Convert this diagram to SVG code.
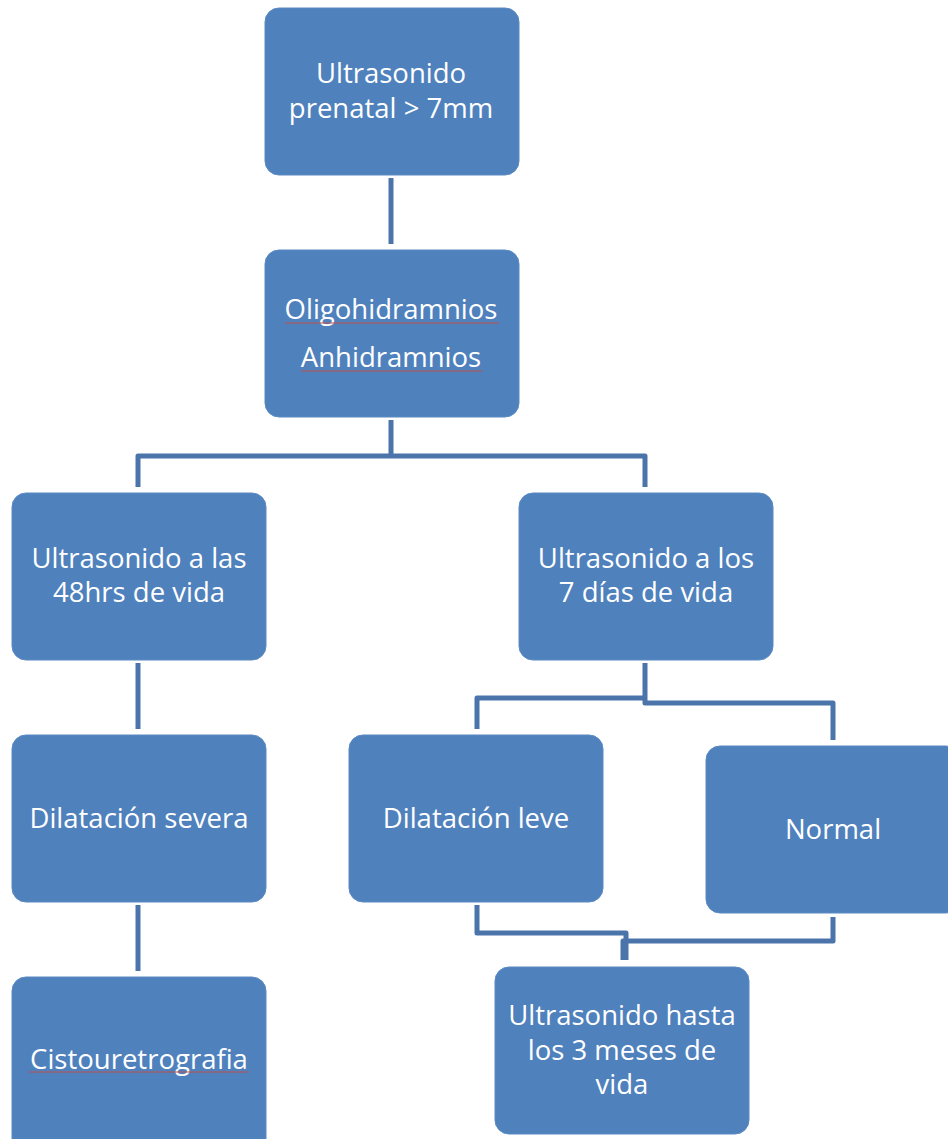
<svg xmlns="http://www.w3.org/2000/svg" width="948" height="1139" viewBox="0 0 948 1139">
<style>
.box{fill:#4F81BD;stroke:#5B8AC3;stroke-width:1}
.t{font-family:"Open Sans","Liberation Sans",sans-serif;font-size:27.5px;fill:#FFFFFF;text-anchor:middle}
.c{fill:none;stroke:#4A74AA;stroke-width:5;stroke-linejoin:round}
.sp{stroke:#C0504D;stroke-width:1;fill:none}
</style>
<rect width="948" height="1139" fill="#FFFFFF"/>
<g id="connectors">
<path class="c" d="M391,178 V244"/>
<path class="c" d="M391,420 V456 M138,487 V456 H645 V487"/>
<path class="c" d="M138,663 V729"/>
<path class="c" d="M138,905 V971"/>
<path class="c" d="M645,663 V703 H833 V740 M645,698 H477 V729"/>
<path class="c" d="M477,905 V933 H626 V960 M833,917 V941 H623 V960"/>
</g>
<g id="n1"><rect class="box" x="265" y="8" width="254" height="167" rx="14"/>
<text class="t" x="391" y="83">Ultrasonido</text><text class="t" x="391" y="118">prenatal &gt; 7mm</text></g>
<g id="n2"><rect class="box" x="265" y="250" width="254" height="167" rx="14"/>
<text class="t" x="391" y="319">Oligohidramnios</text><text class="t" x="391" y="367">Anhidramnios</text>
<path class="sp" d="M285,323 H499 M301,371 H482"/></g>
<g id="n3"><rect class="box" x="12" y="493" width="254" height="167" rx="14"/>
<text class="t" x="139" y="568">Ultrasonido a las</text><text class="t" x="139" y="602">48hrs de vida</text></g>
<g id="n4"><rect class="box" x="519" y="493" width="254" height="167" rx="14"/>
<text class="t" x="646" y="568">Ultrasonido a los</text><text class="t" x="646" y="602">7 días de vida</text></g>
<g id="n5"><rect class="box" x="12" y="735" width="254" height="167" rx="14"/>
<text class="t" x="139" y="828">Dilatación severa</text></g>
<g id="n6"><rect class="box" x="349" y="735" width="254" height="167" rx="14"/>
<text class="t" x="476" y="828">Dilatación leve</text></g>
<g id="n7"><rect class="box" x="706" y="746" width="254" height="167" rx="14"/>
<text class="t" x="833" y="839">Normal</text></g>
<g id="n8"><rect class="box" x="12" y="977" width="254" height="180" rx="14"/>
<text class="t" x="139" y="1069">Cistouretrografia</text>
<path class="sp" d="M29,1072 H248"/></g>
<g id="n9"><rect class="box" x="495" y="967" width="254" height="167" rx="14"/>
<text class="t" x="622" y="1025">Ultrasonido hasta</text><text class="t" x="622" y="1060">los 3 meses de</text><text class="t" x="622" y="1094">vida</text></g>
</svg>
